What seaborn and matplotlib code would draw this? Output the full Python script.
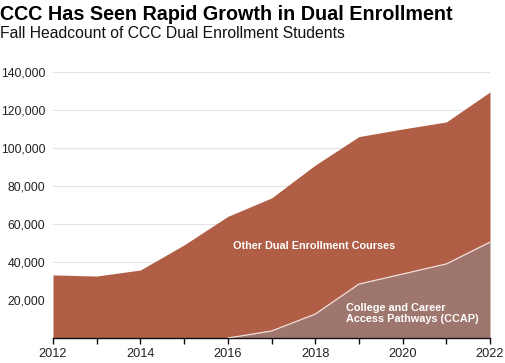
import matplotlib
matplotlib.use("Agg")
import matplotlib.pyplot as plt
import seaborn as sns
import numpy as np

years = [2012, 2013, 2014, 2015, 2016, 2017, 2018, 2019, 2020, 2021, 2022]
total = [33200, 32600, 35800, 49000, 64000, 73700, 91000, 106000, 110000, 113700, 129500]
ccap = [0, 0, 0, 0, 0, 3700, 12600, 28400, 33700, 39000, 50500]
other = [t - c for t, c in zip(total, ccap)]

yticks = [20000, 40000, 60000, 80000, 100000, 120000, 140000]
xticks = [2012, 2014, 2016, 2018, 2020, 2022]

sns.set_theme(style="white")
plt.rcParams['font.family'] = ['Liberation Sans', 'DejaVu Sans']

fig = plt.figure(figsize=(5.06, 3.63), dpi=100)
ax = fig.add_axes([53/506, (363-338)/363, (490-53)/506, (338-72)/363])

ax.stackplot(years, ccap, other, colors=["#9E766E", "#B05E45"], linewidth=0, zorder=2)
ax.plot(years[4:], ccap[4:], color="#F2E6E2", lw=0.8, zorder=3)

ax.set_xlim(2012, 2022)
ax.set_ylim(0, 140000)
ax.set_yticks(yticks)
ax.set_yticklabels([f"{v:,}" for v in yticks], fontsize=8.8, color="#222222")
ax.set_xticks(years, minor=True)
ax.set_xticks(xticks)
ax.set_xticklabels([str(x) for x in xticks], fontsize=9.2, color="#222222")
ax.yaxis.grid(True, color="#E3E3E3", lw=0.8, zorder=0)
ax.set_axisbelow(True)
for s in ["top", "right", "left"]:
    ax.spines[s].set_visible(False)
ax.spines["bottom"].set_color("#111111")
ax.spines["bottom"].set_linewidth(1.0)
ax.tick_params(axis="x", which="both", bottom=True, length=4, width=1.0, color="#111111", pad=3)
ax.tick_params(axis="y", length=0, pad=5.5)

ax.text(2016.12, 48500, "Other Dual Enrollment Courses", color="white",
        fontsize=7.8, fontweight="bold", va="center", ha="left", zorder=5)
ax.text(2018.7, 12800, "College and Career\nAccess Pathways (CCAP)", color="white",
        fontsize=7.8, fontweight="bold", va="center", ha="left", linespacing=1.2, zorder=5)

fig.text(0.0, 1 - 14/363, "CCC Has Seen Rapid Growth in Dual Enrollment",
         fontsize=14.2, fontweight="bold", va="center", ha="left", color="black")
fig.text(0.0, 1 - 33/363, "Fall Headcount of CCC Dual Enrollment Students",
         fontsize=11.3, va="center", ha="left", color="#111111")

fig.savefig("out.png", dpi=100)
